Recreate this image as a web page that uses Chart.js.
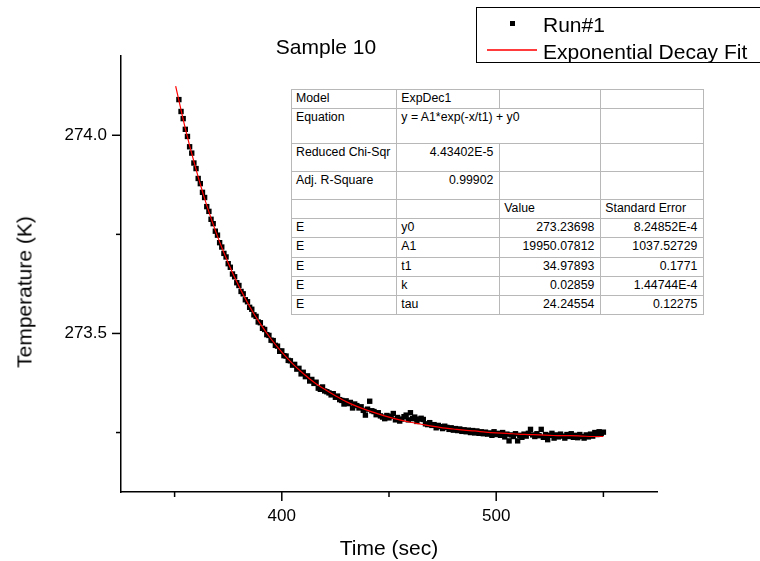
<!DOCTYPE html>
<html>
<head>
<meta charset="utf-8">
<script src="https://cdn.jsdelivr.net/npm/chart.js@4/dist/chart.umd.min.js"></script>
<style>
  html, body { margin: 0; padding: 0; background: #fff; }
  #wrap { position: relative; width: 760px; height: 561px; overflow: hidden; font-family: "Liberation Sans", Arial, sans-serif; color: #000; }
  #c { position: absolute; left: 0; top: 0; }
  .lbl { position: absolute; white-space: nowrap; line-height: 1; font-size: 21px; }
  #title { left: 326px; top: 46px; transform: translate(-50%, -50%); }
  #xtitle { left: 389px; top: 547px; transform: translate(-50%, -50%); }
  #ytitle { left: 24px; top: 292px; transform: translate(-50%, -50%) rotate(-90deg); }
  #legend { position: absolute; left: 476px; top: 7px; width: 300px; height: 56px; border: 1px solid #000; background: #fff; box-sizing: border-box; }
  #legend .row { position: absolute; left: 66px; font-size: 21px; line-height: 1; white-space: nowrap; }
  #legend .sym { position: absolute; }
  #tbl { position: absolute; left: 291px; top: 89px; border-collapse: collapse; font-size: 12.3px; background: #fff; border: 1px solid #555; table-layout: fixed; }
  #tbl td { border: 1px solid #b8b8b8; padding: 1px 6px 0 4px; vertical-align: top; line-height: 14px; overflow: hidden; white-space: nowrap; }
  #tbl td.r { text-align: right; }
</style>
</head>
<body>
<div id="wrap">
  <canvas id="c" width="760" height="561"></canvas>
  <div class="lbl" id="title"></div>
  <div class="lbl" id="xtitle"></div>
  <div class="lbl" id="ytitle"></div>
  <div id="legend"></div>
  <table id="tbl"></table>
</div>
<script>
// ---------------- data ----------------
const chartTitle = "Sample 10";
const xAxisTitle = "Time (sec)";
const yAxisTitle = "Temperature (K)";
const seriesNames = ["Run#1", "Exponential Decay Fit"];

const xTickValues = [350, 400, 450, 500, 550];
const xTickLabels = ["", "400", "", "500", ""];
const yTickValues = [273.25, 273.5, 273.75, 274.0];
const yTickLabels = ["", "273.5", "", "274.0"];

const runTime = [
352,353,354,355,356,357,358,359,360,361,362,363,364,365,366,367,368,369,370,371,
372,373,374,375,376,377,378,379,380,381,382,383,384,385,386,387,388,389,390,391,
392,393,394,395,396,397,398,399,400,401,402,403,404,405,406,407,408,409,410,411,
412,413,414,415,416,417,418,419,420,421,422,423,424,425,426,427,428,429,430,431,
432,433,434,435,436,437,438,439,440,441,442,443,444,445,446,447,448,449,450,451,
452,453,454,455,456,457,458,459,460,461,462,463,464,465,466,467,468,469,470,471,
472,473,474,475,476,477,478,479,480,481,482,483,484,485,486,487,488,489,490,491,
492,493,494,495,496,497,498,499,500,501,502,503,504,505,506,507,508,509,510,511,
512,513,514,515,516,517,518,519,520,521,522,523,524,525,526,527,528,529,530,531,
532,533,534,535,536,537,538,539,540,541,542,543,544,545,546,547,548,549,550];

const runTemp = [
274.090,274.060,274.042,274.015,273.997,273.971,273.955,273.930,273.916,273.891,
273.878,273.856,273.843,273.820,273.808,273.788,273.777,273.758,273.748,273.729,
273.718,273.702,273.693,273.676,273.667,273.650,273.643,273.628,273.621,273.606,
273.600,273.585,273.580,273.566,273.561,273.547,273.543,273.529,273.527,273.513,
273.510,273.497,273.495,273.483,273.482,273.470,273.468,273.455,273.456,273.444,
273.443,273.432,273.431,273.420,273.422,273.410,273.412,273.398,273.402,273.391,
273.393,273.380,273.384,273.374,273.377,273.362,273.359,273.365,273.355,273.353,
273.350,273.345,273.348,273.339,273.342,273.333,273.331,273.322,273.330,273.323,
273.326,273.312,273.322,273.318,273.312,273.315,273.306,273.294,273.309,273.329,
273.305,273.303,273.295,273.300,273.292,273.289,273.285,273.293,273.287,273.291,
273.298,273.282,273.288,273.279,273.284,273.290,273.294,273.282,273.300,273.285,
273.289,273.278,273.284,273.286,273.283,273.272,273.270,273.275,273.268,273.270,
273.262,273.268,273.265,273.260,273.266,273.263,273.258,273.262,273.256,273.260,
273.255,273.259,273.253,273.257,273.252,273.256,273.250,273.255,273.249,273.254,
273.248,273.252,273.247,273.251,273.246,273.249,273.243,273.252,273.245,273.248,
273.243,273.250,273.239,273.246,273.229,273.244,273.240,273.247,273.229,273.243,
273.238,273.246,273.241,273.248,273.258,273.244,273.240,273.247,273.242,273.258,
273.238,273.245,273.232,273.243,273.248,273.236,273.244,273.239,273.246,273.241,
273.236,273.245,273.240,273.247,273.238,273.243,273.237,273.245,273.240,273.236,
273.244,273.239,273.246,273.241,273.250,273.245,273.252,273.248,273.251];

const fitTime = [350.5,355,360,365,370,375,380,385,390,395,400,405,410,415,420,425,430,435,440,445,
                 450,455,460,465,470,475,480,485,490,495,500,505,510,515,520,525,530,535,540,545,550];
const fitTemp = [274.124,274.017,273.914,273.823,273.745,273.678,273.619,273.568,273.524,273.486,
                 273.453,273.424,273.399,273.377,273.359,273.343,273.328,273.316,273.306,273.297,
                 273.289,273.282,273.276,273.271,273.266,273.262,273.259,273.256,273.254,273.251,
                 273.249,273.248,273.246,273.245,273.244,273.243,273.242,273.242,273.241,273.240,273.240];

const tableRows = [
  ["Model", "ExpDec1", "", ""],
  ["Equation", "y = A1*exp(-x/t1) + y0", "", ""],
  ["Reduced Chi-Sqr", "4.43402E-5", "", ""],
  ["Adj. R-Square", "0.99902", "", ""],
  ["", "", "Value", "Standard Error"],
  ["E", "y0", "273.23698", "8.24852E-4"],
  ["E", "A1", "19950.07812", "1037.52729"],
  ["E", "t1", "34.97893", "0.1771"],
  ["E", "k", "0.02859", "1.44744E-4"],
  ["E", "tau", "24.24554", "0.12275"]
];

// ---------------- text overlays ----------------
document.getElementById('title').textContent = chartTitle;
document.getElementById('xtitle').textContent = xAxisTitle;
document.getElementById('ytitle').textContent = yAxisTitle;

const lg = document.getElementById('legend');
lg.innerHTML =
  '<div class="sym" style="left:33px;top:13px;width:5px;height:5px;background:#000"></div>' +
  '<div class="row" style="top:6px">' + seriesNames[0] + '</div>' +
  '<div class="sym" style="left:10px;top:41px;width:50px;height:1.5px;background:#ff3b3b"></div>' +
  '<div class="row" style="top:33px">' + seriesNames[1] + '</div>';

const colW = [103, 103, 101, 103];
const rowH = [19, 35, 28, 28, 19, 19, 20, 19, 19, 19];
const tbl = document.getElementById('tbl');
let html = '<colgroup>' + colW.map(w => '<col style="width:' + w + 'px">').join('') + '</colgroup>';
tableRows.forEach((r, i) => {
  html += '<tr style="height:' + rowH[i] + 'px">';
  r.forEach((cell, j) => {
    let right = false;
    if (i === 2 || i === 3) right = (j === 1);
    if (i >= 5) right = (j >= 2);
    if (i === 1 && j === 1) {
      html += '<td colspan="2">' + cell + '</td>';
      return;
    }
    if (i === 1 && j === 2) return;
    html += '<td' + (right ? ' class="r"' : '') + '>' + cell + '</td>';
  });
  html += '</tr>';
});
tbl.innerHTML = html;

// ---------------- chart ----------------
const tickMarks = {
  id: 'tickMarks',
  afterDraw(chart) {
    const ctx = chart.ctx, xs = chart.scales.x, ys = chart.scales.y, a = chart.chartArea;
    ctx.save();
    ctx.strokeStyle = '#000';
    ctx.lineWidth = 1.5;
    xTickValues.forEach((v, i) => {
      const px = xs.getPixelForValue(v);
      const len = xTickLabels[i] ? 9 : 5;
      ctx.beginPath(); ctx.moveTo(px, a.bottom); ctx.lineTo(px, a.bottom + len); ctx.stroke();
    });
    yTickValues.forEach((v, i) => {
      const py = ys.getPixelForValue(v);
      const len = yTickLabels[i] ? 9 : 5;
      ctx.beginPath(); ctx.moveTo(a.left, py); ctx.lineTo(a.left - len, py); ctx.stroke();
    });
    ctx.restore();
  }
};

Chart.defaults.font.family = '"Liberation Sans", Arial, sans-serif';
Chart.defaults.color = '#000';

new Chart(document.getElementById('c'), {
  type: 'scatter',
  data: {
    datasets: [
      {
        type: 'line',
        label: seriesNames[1],
        data: fitTime.map((t, i) => ({ x: t, y: fitTemp[i] })),
        borderColor: '#ff0000',
        borderWidth: 1.2,
        pointRadius: 0,
        fill: false,
        cubicInterpolationMode: 'monotone',
        order: 0
      },
      {
        label: seriesNames[0],
        data: runTime.map((t, i) => ({ x: t, y: runTemp[i] })),
        pointStyle: 'rect',
        pointRadius: 3.8,
        pointBorderWidth: 0,
        backgroundColor: '#000',
        borderColor: '#000',
        order: 1
      }
    ]
  },
  options: {
    responsive: false,
    animation: false,
    events: [],
    layout: { padding: { left: 0, right: 103, top: 56, bottom: 0 } },
    plugins: { legend: { display: false }, title: { display: false }, tooltip: { enabled: false } },
    scales: {
      x: {
        type: 'linear',
        min: 325, max: 575,
        grid: { display: false, drawTicks: false },
        border: { display: true, color: '#000', width: 1.5 },
        afterBuildTicks: s => { s.ticks = xTickValues.map(v => ({ value: v })); },
        ticks: {
          autoSkip: false, maxRotation: 0, padding: 14,
          font: { size: 17 },
          callback: (v) => { const i = xTickValues.indexOf(v); return i >= 0 ? xTickLabels[i] : ''; }
        },
        afterFit: s => { s.height = 69; }
      },
      y: {
        type: 'linear',
        min: 273.1, max: 274.2,
        grid: { display: false, drawTicks: false },
        border: { display: true, color: '#000', width: 1.5 },
        afterBuildTicks: s => { s.ticks = yTickValues.map(v => ({ value: v })); },
        ticks: {
          autoSkip: false, padding: 14,
          font: { size: 17 },
          callback: (v) => { const i = yTickValues.indexOf(v); return i >= 0 ? yTickLabels[i] : ''; }
        },
        afterFit: s => { s.width = 121; }
      }
    }
  },
  plugins: [tickMarks]
});
</script>
</body>
</html>
